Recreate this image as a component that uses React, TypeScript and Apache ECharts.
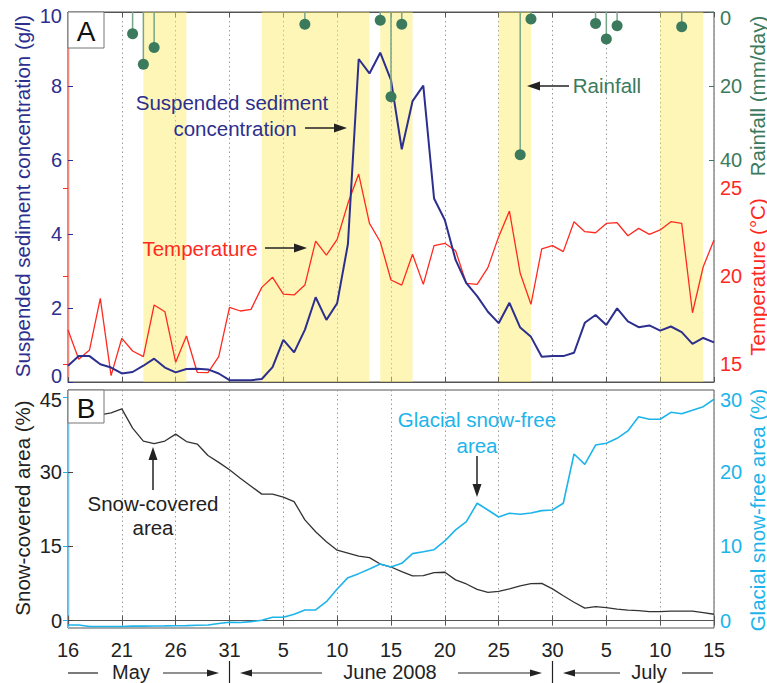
import React, { useEffect, useRef } from "react";
import * as echarts from "echarts";

// x = days since 16 May 2008 (0 .. 60 = 15 July)
const tickLabels = ["16", "21", "26", "31", "5", "10", "15", "20", "25", "30", "5", "10", "15"];

const ssc = [0.44, 0.70, 0.70, 0.48, 0.39, 0.23, 0.27, 0.44, 0.63, 0.39,
  0.26, 0.35, 0.36, 0.34, 0.23, 0.05, 0.05, 0.05, 0.08, 0.40,
  1.14, 0.80, 1.41, 2.29, 1.68, 2.13, 3.73, 8.73, 8.34, 8.90,
  8.16, 6.29, 7.59, 8.01, 4.96, 4.38, 3.30, 2.67, 2.32, 1.90,
  1.59, 2.14, 1.47, 1.22, 0.68, 0.70, 0.70, 0.79, 1.60, 1.81,
  1.54, 1.99, 1.64, 1.48, 1.53, 1.39, 1.50, 1.35, 1.03, 1.19, 1.07];

const temperature = [16.95, 15.29, 15.82, 18.75, 14.36, 16.48, 15.76, 15.44, 18.37, 17.99,
  15.12, 16.61, 14.55, 14.53, 15.44, 18.24, 18.03, 18.12, 19.37, 19.94,
  18.99, 18.94, 19.5, 22.0, 21.2, 22.1, 24.14, 25.8, 23.0, 21.96,
  19.79, 19.5, 21.25, 19.54, 21.74, 21.87, 21.45, 19.6, 19.54, 20.49,
  22.25, 23.7, 20.17, 18.41, 21.55, 21.74, 21.4, 23.1, 22.53, 22.47,
  23.0, 23.04, 22.3, 22.72, 22.38, 22.63, 23.1, 23.0, 17.93, 20.54, 22.06];

const rainDays = [6, 7, 8, 22, 29, 30, 31, 42, 43, 49, 50, 51, 57];
const rainVals = [5.9, 14.1, 9.6, 3.3, 2.2, 22.9, 3.3, 38.6, 1.9, 3.1, 7.3, 3.7, 4.0];

const bands = [[7, 11], [18, 28], [29, 32], [40, 43], [55, 59]];

const snowCovered = [40.6, 40.9, 41.2, 41.5, 41.9, 42.7, 38.8, 36.2, 35.7, 36.2,
  37.6, 36.1, 35.6, 33.3, 31.9, 30.4, 28.7, 27.1, 25.5, 25.5,
  24.9, 24.0, 20.3, 17.9, 15.9, 14.2, 13.6, 13.0, 12.7, 11.4,
  10.8, 9.87, 9.0, 9.06, 9.67, 9.74, 8.2, 7.38, 6.3, 5.7,
  5.9, 6.4, 7.0, 7.45, 7.5, 6.4, 5.0, 3.7, 2.5, 2.8,
  2.6, 2.3, 2.1, 2.0, 1.8, 1.8, 1.9, 1.9, 1.9, 1.6, 1.27];

const snowFree = [-0.6, -0.6, -0.8, -0.8, -0.8, -0.8, -0.75, -0.75, -0.73, -0.72,
  -0.7, -0.68, -0.64, -0.6, -0.4, -0.23, -0.27, -0.14, 0.04, 0.44,
  0.44, 0.85, 1.43, 1.43, 2.54, 4.25, 5.77, 6.31, 6.94, 7.6,
  7.2, 7.7, 9.0, 9.26, 9.53, 10.7, 12.2, 13.3, 15.77, 14.87,
  13.93, 14.42, 14.29, 14.47, 14.78, 14.87, 15.77, 22.4, 21.0, 23.6,
  23.84, 24.5, 25.5, 27.4, 27.07, 27.07, 28.0, 27.8, 28.28, 28.76, 29.76];

const FONT = "'Liberation Sans', Arial, Helvetica, sans-serif";
const NAVY = "#2d2f8e";
const RED = "#ff2a1f";
const GREEN = "#3b7a5c";
const CYAN = "#1cb4ea";
const DARK = "#222222";

function txt(text: string, x: number, y: number, color: string, size = 20, rotate = 0, align = "center") {
  return {
    type: "text",
    x,
    y,
    rotation: rotate,
    z: 100,
    silent: true,
    style: {
      text,
      x: 0,
      y: 0,
      fill: color,
      fontSize: size,
      fontFamily: FONT,
      align,
      verticalAlign: "middle",
      textAlign: align,
      textVerticalAlign: "middle",
    },
  };
}

function arrow(x1: number, y1: number, x2: number, y2: number, color = DARK, w = 1.5, hl = 13, hw = 4.5) {
  const dx = x2 - x1;
  const dy = y2 - y1;
  const len = Math.sqrt(dx * dx + dy * dy);
  const ux = dx / len;
  const uy = dy / len;
  const bx = x2 - ux * hl;
  const by = y2 - uy * hl;
  return [
    { type: "line", z: 100, silent: true, shape: { x1, y1, x2: bx, y2: by }, style: { stroke: color, lineWidth: w } },
    {
      type: "polygon",
      z: 100,
      silent: true,
      shape: { points: [[x2, y2], [bx - uy * hw, by + ux * hw], [bx + uy * hw, by - ux * hw]] },
      style: { fill: color },
    },
  ];
}

function seg(x1: number, y1: number, x2: number, y2: number, color = DARK, w = 1.2) {
  return { type: "line", z: 100, silent: true, shape: { x1, y1, x2, y2 }, style: { stroke: color, lineWidth: w } };
}

// rich-text label with a small vertical nudge (positive = down)
function nudgeRich(color: string) {
  const base = { color, fontSize: 20, fontFamily: FONT };
  return {
    up6: { ...base, padding: [0, 0, 12, 0] },
    dn3: { ...base, padding: [6, 0, 0, 0] },
    dn4: { ...base, padding: [8, 0, 0, 0] },
    dn6: { ...base, padding: [12, 0, 0, 0] },
  };
}

const GL = 68;
const GW = 646;

export default function App() {
  const ref = useRef<HTMLDivElement>(null);
  useEffect(() => {
    if (!ref.current) return;
    const chart = echarts.init(ref.current, undefined, { renderer: "svg" });

    const xBase = (grid: number, labels: boolean) => ({
      type: "value",
      gridIndex: grid,
      min: 0,
      max: 60,
      interval: 5,
      axisLine: { show: true, lineStyle: { color: "#555", width: 1 } },
      axisTick: { show: true, inside: true, length: 5, lineStyle: { color: "#555" } },
      axisLabel: {
        show: labels,
        margin: 12,
        color: DARK,
        fontSize: 20,
        fontFamily: FONT,
        formatter: (v: number) => tickLabels[Math.round(v / 5)] ?? "",
      },
      splitLine: { show: true, lineStyle: { type: [1.5, 3], color: "#9a9a9a", width: 1 } },
    });
    const xTop = (grid: number) => ({
      type: "value",
      gridIndex: grid,
      position: "top",
      min: 0,
      max: 60,
      interval: 5,
      axisLine: { show: true, lineStyle: { color: "#555", width: 1 } },
      axisTick: { show: true, inside: true, length: 5, lineStyle: { color: "#555" } },
      axisLabel: { show: false },
      splitLine: { show: false },
    });

    const lbl = (color: string) => ({ color, fontSize: 20, fontFamily: FONT, margin: 6, rich: nudgeRich(color) });

    const graphic: any[] = [
      // panel boxes
      { type: "rect", z: 99, shape: { x: GL, y: 12, width: 36, height: 36 }, style: { fill: "#fff", stroke: "#777", lineWidth: 1 } },
      txt("A", 86, 31, "#111", 28),
      { type: "rect", z: 99, shape: { x: GL, y: 390, width: 36, height: 33 }, style: { fill: "#fff", stroke: "#777", lineWidth: 1 } },
      txt("B", 86, 408, "#111", 28),
      // axis titles
      txt("Suspended sediment concentration (g/l)", 22, 196, NAVY, 20.5, Math.PI / 2),
      txt("Rainfall (mm/day)", 757, 96, GREEN, 20.5, Math.PI / 2),
      txt("Temperature (°C)", 757, 277, RED, 20.5, Math.PI / 2),
      txt("Snow-covered area (%)", 22, 508, DARK, 20.5, Math.PI / 2),
      txt("Glacial snow-free area (%)", 757, 510, CYAN, 20.5, Math.PI / 2),
      // annotations top
      txt("Suspended sediment", 232, 102, NAVY, 20.5),
      txt("concentration", 235, 128, NAVY, 20.5),
      ...arrow(305, 128, 347, 128),
      txt("Temperature", 200, 248, RED, 20.5),
      ...arrow(265, 248, 307, 248),
      txt("Rainfall", 607, 85, GREEN, 20.5),
      ...arrow(569, 86, 527, 86),
      // annotations bottom
      txt("Snow-covered", 153, 503, DARK, 20.5),
      txt("area", 153, 527, DARK, 20.5),
      ...arrow(153, 490, 153, 447),
      txt("Glacial snow-free", 477, 419, CYAN, 20.5),
      txt("area", 477, 445, CYAN, 20.5),
      ...arrow(477, 456, 477, 497),
      // month row
      txt("May", 131, 672, DARK, 20),
      seg(68, 673, 98, 673),
      ...arrow(163, 673, 219, 673, DARK, 1.2, 12, 3.5),
      seg(229.5, 661, 229.5, 683),
      ...arrow(322, 673, 240, 673, DARK, 1.2, 12, 3.5),
      txt("June 2008", 390, 672, DARK, 20),
      ...arrow(458, 673, 542, 673, DARK, 1.2, 12, 3.5),
      seg(552.5, 661, 552.5, 683),
      ...arrow(620, 673, 563, 673, DARK, 1.2, 12, 3.5),
      txt("July", 649, 672, DARK, 20),
      seg(682, 673, 713, 673),
    ];

    const option: any = {
      animation: false,
      backgroundColor: "#ffffff",
      textStyle: { fontFamily: FONT },
      grid: [
        { left: GL, top: 12, width: GW, height: 370, show: true, borderColor: "#555", borderWidth: 1, backgroundColor: "transparent" },
        { left: GL, top: 390, width: GW, height: 238, show: true, borderColor: "#555", borderWidth: 1, backgroundColor: "transparent" },
      ],
      xAxis: [xBase(0, false), xTop(0), xBase(1, true), xTop(1)],
      yAxis: [
        {
          type: "value", gridIndex: 0, min: 0, max: 10, interval: 2, position: "left",
          axisLine: { show: true, lineStyle: { color: NAVY, width: 1.2 } },
          axisTick: { show: true, inside: true, length: 5, lineStyle: { color: NAVY } },
          axisLabel: {
            ...lbl(NAVY),
            formatter: (v: number) => (v === 0 ? "{up6|0}" : v === 10 ? "{dn4|10}" : String(v)),
          },
          splitLine: { show: false },
        },
        {
          type: "value", gridIndex: 0, min: 14, max: 35, interval: 1, position: "right",
          axisLine: { show: true, lineStyle: { color: "#f58a80", width: 1.2 } },
          axisTick: { show: true, inside: true, length: 5, lineStyle: { color: RED }, customValues: [15, 20, 25] },
          axisLabel: { ...lbl(RED), customValues: [15, 20, 25] }, splitLine: { show: false },
        },
        {
          type: "value", gridIndex: 0, min: 0, max: 100, interval: 20, position: "right", inverse: true,
          axisLine: { show: false },
          axisTick: { show: true, inside: true, length: 5, lineStyle: { color: GREEN }, customValues: [0, 20, 40] },
          axisLabel: {
            ...lbl(GREEN), customValues: [0, 20, 40],
            formatter: (v: number) => (v === 0 ? "{dn6|0}" : String(v)),
          },
          splitLine: { show: false },
        },
        {
          type: "value", gridIndex: 1, min: -1.5, max: 46.5, interval: 1.5, position: "left",
          axisLine: { show: true, lineStyle: { color: "#444", width: 1.2 } },
          axisTick: { show: true, inside: true, length: 5, lineStyle: { color: "#444" }, customValues: [0, 15, 30, 45] },
          axisLabel: {
            ...lbl(DARK), customValues: [0, 15, 30, 45],
            formatter: (v: number) => (v === 45 ? "{dn3|45}" : String(v)),
          },
          splitLine: { show: false },
        },
        {
          type: "value", gridIndex: 1, min: -1, max: 31, interval: 1, position: "right",
          axisLine: { show: true, lineStyle: { color: "#7cc6ea", width: 1.2 } },
          axisTick: { show: true, inside: true, length: 5, lineStyle: { color: CYAN }, customValues: [0, 10, 20, 30] },
          axisLabel: {
            ...lbl(CYAN), customValues: [0, 10, 20, 30],
            formatter: (v: number) => (v === 30 ? "{dn3|30}" : String(v)),
          },
          splitLine: { show: false },
        },
      ],
      series: [
        {
          type: "line", name: "bands", xAxisIndex: 0, yAxisIndex: 0, z: 1,
          data: [[0, -1]], showSymbol: false, lineStyle: { width: 0 }, silent: true,
          markArea: {
            silent: true,
            itemStyle: { color: "rgba(250,236,95,0.45)" },
            data: bands.map(([a, b]) => [{ xAxis: a }, { xAxis: b }]),
          },
        },
        {
          type: "line", name: "Temperature", xAxisIndex: 0, yAxisIndex: 1, z: 3,
          data: temperature.map((v, i) => [i, v]), showSymbol: false,
          lineStyle: { color: RED, width: 1.3 },
        },
        {
          type: "line", name: "SSC", xAxisIndex: 0, yAxisIndex: 0, z: 4,
          data: ssc.map((v, i) => [i, v]), showSymbol: false,
          lineStyle: { color: NAVY, width: 2 },
        },
        {
          type: "bar", name: "Rainfall stems", xAxisIndex: 0, yAxisIndex: 2, z: 5,
          data: rainDays.map((d, i) => [d, rainVals[i]]), barWidth: 1.5,
          itemStyle: { color: "#77a58a" },
        },
        {
          type: "scatter", name: "Rainfall", xAxisIndex: 0, yAxisIndex: 2, z: 6,
          data: rainDays.map((d, i) => [d, rainVals[i]]), symbolSize: 11,
          itemStyle: { color: GREEN, opacity: 1 },
        },
        {
          type: "line", name: "Snow-covered", xAxisIndex: 2, yAxisIndex: 3, z: 3,
          data: snowCovered.map((v, i) => [i, v]), showSymbol: false,
          lineStyle: { color: "#333", width: 1.3 },
        },
        {
          type: "line", name: "Glacial snow-free", xAxisIndex: 2, yAxisIndex: 4, z: 3,
          data: snowFree.map((v, i) => [i, v]), showSymbol: false,
          lineStyle: { color: CYAN, width: 1.6 },
        },
      ],
      graphic,
    };
    chart.setOption(option);
    return () => chart.dispose();
  }, []);

  return (
    <div
      ref={ref}
      style={{ position: "absolute", left: 0, top: 0, width: 767, height: 683, background: "#fff" }}
    />
  );
}
